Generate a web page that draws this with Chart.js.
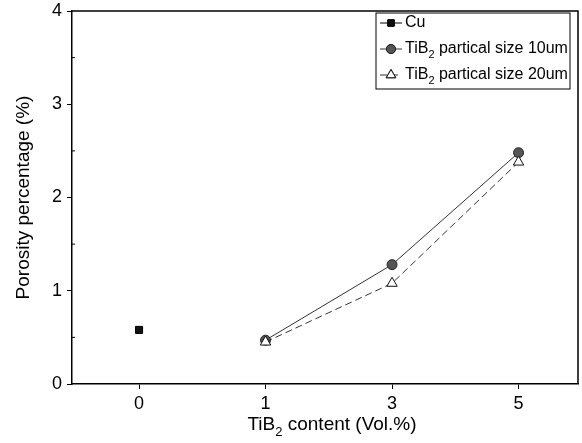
<!DOCTYPE html>
<html><head><meta charset="utf-8">
<script src="https://cdn.jsdelivr.net/npm/chart.js@4"></script>
<style>html,body{margin:0;padding:0;background:#fff}#wrap{width:582px;height:443px}</style>
</head><body><div id="wrap"><canvas id="c" width="582" height="443"></canvas></div>
<script>
const categories = ['0', '1', '3', '5'];
const cuValues = [0.58, null, null, null];
const size10Values = [null, 0.47, 1.28, 2.48];
const size20Values = [null, 0.45, 1.08, 2.38];
const yTicks = [0, 1, 2, 3, 4];
const seriesLabels = ['Cu', 'TiB₂ partical size 10um', 'TiB₂ partical size 20um'];
const xTitle = 'TiB₂ content (Vol.%)';
const yTitle = 'Porosity percentage (%)';

const FONT = '"Liberation Sans", Arial, sans-serif';
const toPoints = arr => arr.map((v, i) => ({ x: i, y: v }));

function drawRich(ctx, text, x, y, size, align) {
  const parts = [];
  let buf = '';
  for (const ch of text) {
    if (ch === '₂') { if (buf) parts.push({t: buf, sub: false}); buf = ''; parts.push({t: '2', sub: true}); }
    else buf += ch;
  }
  if (buf) parts.push({t: buf, sub: false});
  const subSize = Math.round(size * 0.68);
  let total = 0;
  parts.forEach(p => { ctx.font = (p.sub ? subSize : size) + 'px ' + FONT; p.w = ctx.measureText(p.t).width; total += p.w; });
  let cx = align === 'center' ? x - total / 2 : x;
  ctx.textBaseline = 'middle';
  ctx.textAlign = 'left';
  parts.forEach(p => {
    ctx.font = (p.sub ? subSize : size) + 'px ' + FONT;
    ctx.fillText(p.t, cx, p.sub ? y + size * 0.38 : y);
    cx += p.w;
  });
}

const framePlugin = {
  id: 'frame',
  afterDraw(chart) {
    const ctx = chart.ctx, a = chart.chartArea;
    ctx.save();
    ctx.strokeStyle = '#000';
    ctx.lineWidth = 1.5;
    ctx.beginPath();
    ctx.moveTo(a.left, a.top); ctx.lineTo(a.right, a.top); ctx.lineTo(a.right, a.bottom);
    ctx.stroke();
    const ys = chart.scales.y;
    ctx.lineWidth = 1;
    for (let i = 0; i < yTicks.length - 1; i++) {
      const v = (yTicks[i] + yTicks[i + 1]) / 2;
      const py = ys.getPixelForValue(v);
      ctx.beginPath(); ctx.moveTo(a.left, py); ctx.lineTo(a.left + 3, py); ctx.stroke();
    }
    ctx.fillStyle = '#000';
    drawRich(ctx, xTitle, 332, 425, 19, 'center');
    const bw = 194, bh = 76;
    const bx = a.right - 202, by = a.top + 2;
    ctx.fillStyle = '#fff';
    ctx.fillRect(bx, by, bw, bh);
    ctx.strokeStyle = '#000';
    ctx.lineWidth = 1;
    ctx.strokeRect(bx, by, bw, bh);
    chart.data.datasets.forEach((ds, i) => {
      const ry = by + 10 + i * 26;
      ctx.save();
      ctx.strokeStyle = ds.borderColor;
      ctx.lineWidth = 1;
      ctx.setLineDash(ds.borderDash || []);
      ctx.beginPath(); ctx.moveTo(bx + 4, ry); ctx.lineTo(bx + 26, ry); ctx.stroke();
      ctx.setLineDash([]);
      Chart.helpers.drawPoint(ctx, {
        pointStyle: ds.pointStyle, radius: ds.pointRadius - 0.5, borderWidth: 1, rotation: 0
      }, bx + 15, ry);
      ctx.fillStyle = ds.pointBackgroundColor;
      ctx.strokeStyle = ds.pointBorderColor;
      ctx.fill(); ctx.stroke();
      ctx.restore();
      ctx.fillStyle = '#000';
      drawRich(ctx, ds.label, bx + 29, ry, 16, 'left');
    });
    ctx.restore();
  }
};

new Chart(document.getElementById('c'), {
  type: 'line',
  data: {
    datasets: [
      { label: seriesLabels[0], data: toPoints(cuValues), borderColor: '#000', borderWidth: 1,
        pointStyle: 'rect', pointRadius: 5, pointBackgroundColor: '#111', pointBorderColor: '#000', order: 2 },
      { label: seriesLabels[1], data: toPoints(size10Values), borderColor: '#333', borderWidth: 1,
        pointStyle: 'circle', pointRadius: 5, pointBackgroundColor: '#555', pointBorderColor: '#222', order: 1 },
      { label: seriesLabels[2], data: toPoints(size20Values), borderColor: '#333', borderWidth: 1, borderDash: [7, 4],
        pointStyle: 'triangle', pointRadius: 6, pointBackgroundColor: '#fff', pointBorderColor: '#111', order: 0 }
    ]
  },
  options: {
    responsive: false,
    animation: false,
    spanGaps: false,
    layout: { autoPadding: false, padding: { top: 11, right: 4, left: 0, bottom: 0 } },
    plugins: { legend: { display: false }, tooltip: { enabled: false } },
    scales: {
      x: {
        type: 'linear',
        min: -0.53, max: 3.47,
        afterBuildTicks(s) { s.ticks = categories.map((c, i) => ({ value: i })); },
        grid: { display: true, drawOnChartArea: false, tickLength: 5, tickColor: '#000', tickWidth: 1 },
        border: { color: '#000', width: 1.5 },
        ticks: { color: '#000', font: { family: FONT, size: 18 }, padding: 4, maxRotation: 0,
                 callback: (v) => categories[v] },
        afterFit(s) { s.height = 59; s.paddingLeft = 0; s.paddingRight = 0; }
      },
      y: {
        min: 0, max: 4,
        afterBuildTicks(s) { s.ticks = yTicks.map(v => ({ value: v })); },
        grid: { display: true, drawOnChartArea: false, tickLength: 5, tickColor: '#000', tickWidth: 1 },
        border: { color: '#000', width: 1.5 },
        ticks: { color: '#000', font: { family: FONT, size: 18 }, padding: 5 },
        title: { display: true, text: yTitle, color: '#000', font: { family: FONT, size: 19 }, padding: { top: 12, bottom: 0 } },
        afterFit(s) { s.width = 72; s.paddingTop = 0; s.paddingBottom = 0; }
      }
    }
  },
  plugins: [framePlugin]
});
</script>
</body></html>
